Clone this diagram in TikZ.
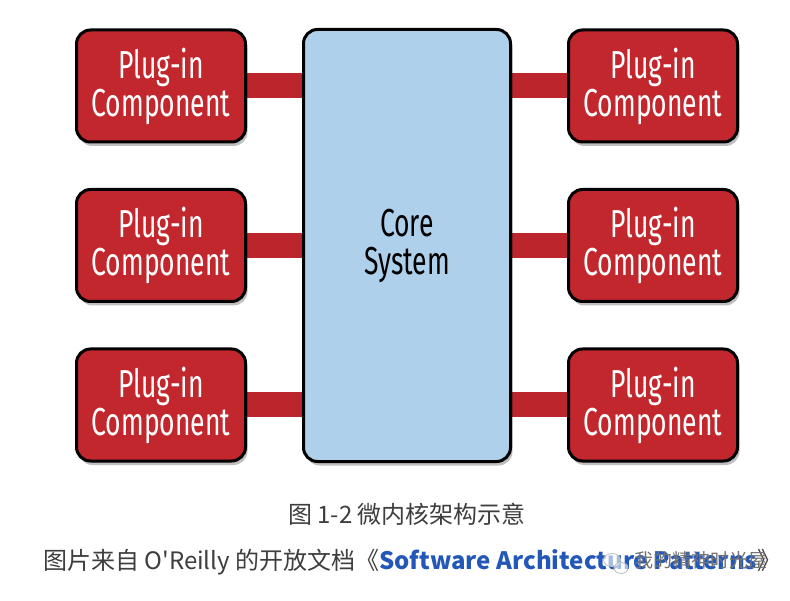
\documentclass[tikz,border=0pt]{standalone}
\usepackage{fontspec}
\setmainfont{Fira Sans}
\newfontfamily\boxfont[FakeStretch=0.68]{Fira Sans}
\newfontfamily\cjk[Ligatures=TeXOff]{Noto Sans CJK SC}
\usetikzlibrary{shadows,backgrounds,shapes.geometric}
\definecolor{plugred}{HTML}{C1272D}
\definecolor{barred}{HTML}{BD252C}
\definecolor{coreblue}{HTML}{AFD0EA}
\definecolor{capgray}{HTML}{3E3E3E}
\definecolor{capblue}{HTML}{2358B8}
\tikzset{
  boxbase/.style={draw=black, line width=3pt, rounded corners=14pt, align=center,
    font=\boxfont\fontsize{39}{38}\selectfont,
    drop shadow={shadow xshift=2pt, shadow yshift=-4pt, opacity=0.25, fill=black}},
  plug/.style={boxbase, fill=plugred, text=white, minimum width=169pt, minimum height=112pt},
  corebox/.style={boxbase, fill=coreblue, text=black, minimum width=207pt, minimum height=432pt},
  barline/.style={line width=25pt, draw=barred},
  captext/.style={font=\cjk\fontsize{24}{27}\selectfont, text=capgray, inner sep=0pt},
  wmtext/.style={font=\cjk\fontsize{19}{22}\selectfont, inner sep=0pt}
}
\begin{document}
\begin{tikzpicture}[x=1pt,y=-1pt]
\useasboundingbox (0,0) rectangle (790,601);
\node[corebox] (core) at (407,245.5) {Core\\System};
\node[plug] (l1) at (161,86) {Plug-in\\Component};
\node[plug] (l2) at (161,245.5) {Plug-in\\Component};
\node[plug] (l3) at (161,405) {Plug-in\\Component};
\node[plug] (r1) at (653,86) {Plug-in\\Component};
\node[plug] (r2) at (653,245.5) {Plug-in\\Component};
\node[plug] (r3) at (653,405) {Plug-in\\Component};
\begin{scope}[on background layer]
\fill[white] (0,0) rectangle (790,601);
\draw[barline] (l1.east) -- (core.west |- l1.east);
\draw[barline] (l2.east) -- (core.west |- l2.east);
\draw[barline] (l3.east) -- (core.west |- l3.east);
\draw[barline] (r1.west) -- (core.east |- r1.west);
\draw[barline] (r2.west) -- (core.east |- r2.west);
\draw[barline] (r3.west) -- (core.east |- r3.west);
\end{scope}
\node[captext] (c1) at (407,514) {图 1-2 微内核架构示意};
\node[captext, anchor=west] (c2) at (43,562) {图片来自 O'Reilly 的开放文档《{\bfseries\color{capblue}Software Architecture Patterns}》};
\node[draw=gray!50, fill=white, fill opacity=0.6, ellipse, minimum width=17pt, minimum height=13pt, inner sep=0pt, line width=0.8pt] (w1) at (612,560) {};
\node[draw=gray!50, fill=white, fill opacity=0.6, ellipse, minimum width=14pt, minimum height=11pt, inner sep=0pt, line width=0.8pt] (w2) at (621,568) {};
\node[wmtext, text=gray!90!black, anchor=west] (wm) at (634.5,560.5) {我的精神时光屋};
\end{tikzpicture}
\end{document}
